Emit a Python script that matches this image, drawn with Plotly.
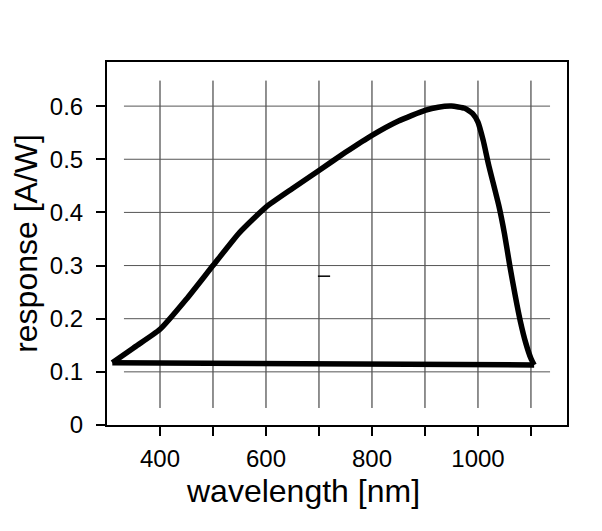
import plotly.graph_objects as go

# response curve, from the short-wavelength end round to the long-wavelength end
wavelength = [310, 350, 400, 450, 500, 550, 600, 650, 700, 750, 800, 850, 900,
              925, 950, 975, 990, 1000, 1010, 1020, 1040, 1050, 1060, 1070,
              1080, 1090, 1100, 1106]
response = [0.117, 0.145, 0.180, 0.237, 0.300, 0.362, 0.410, 0.445, 0.479,
            0.513, 0.545, 0.572, 0.592, 0.598, 0.600, 0.596, 0.586, 0.570,
            0.535, 0.490, 0.410, 0.360, 0.300, 0.245, 0.195, 0.155, 0.125,
            0.113]

# straight segment closing the loop back to the start
close_x = [1106, 310]
close_y = [0.113, 0.117]

# the small stray dash inside the panel
dash_x = [698, 721]
dash_y = [0.28, 0.28]

x_ticks = [400, 500, 600, 700, 800, 900, 1000, 1100]
x_labels = ["400", "", "600", "", "800", "", "1000", ""]
y_ticks = [0, 0.1, 0.2, 0.3, 0.4, 0.5, 0.6]
y_labels = ["0", "0.1", "0.2", "0.3", "0.4", "0.5", "0.6"]

fig = go.Figure()

# ── grid segments (drawn short of the frame, lattice style) ──────────────────
for xv in x_ticks:
    fig.add_shape(type="line", xref="x", yref="y", x0=xv, x1=xv,
                  y0=0.032, y1=0.648, layer="below",
                  line=dict(color="#222222", width=1))
for yv in y_ticks[1:]:
    fig.add_shape(type="line", xref="x", yref="y", x0=332, x1=1136,
                  y0=yv, y1=yv, layer="below",
                  line=dict(color="#555555", width=1))

fig.add_trace(go.Scatter(
    x=wavelength, y=response, mode="lines",
    line=dict(color="black", width=5.5, shape="spline", smoothing=0.5),
    hoverinfo="skip", showlegend=False,
))
fig.add_trace(go.Scatter(
    x=close_x, y=close_y, mode="lines",
    line=dict(color="black", width=5.5),
    hoverinfo="skip", showlegend=False,
))
fig.add_trace(go.Scatter(
    x=dash_x, y=dash_y, mode="lines",
    line=dict(color="black", width=1.5),
    hoverinfo="skip", showlegend=False,
))

axis_font = dict(family="Liberation Sans, Arial, sans-serif", size=24, color="black")
title_font = dict(family="Liberation Sans, Arial, sans-serif", size=32, color="black")

# x title sits left of the panel centre in the original, so it is an annotation
fig.add_annotation(
    text="wavelength [nm]", font=title_font, showarrow=False,
    xref="paper", yref="paper", x=0.426, y=0,
    xanchor="center", yanchor="top", yshift=-46,
)

# page body has an 8px margin, so the plot box is pulled back by that much
fig.update_layout(
    width=602, height=531,
    paper_bgcolor="white", plot_bgcolor="white",
    margin=dict(l=99, r=43, t=54, b=114),
    xaxis=dict(
        range=[300, 1168], tickvals=x_ticks, ticktext=x_labels,
        showgrid=False, zeroline=False, automargin=False,
        showline=True, linecolor="black", linewidth=2, mirror=True,
        ticks="outside", ticklen=9, tickwidth=1.5, tickcolor="black",
        tickfont=axis_font, ticklabelstandoff=2,
    ),
    yaxis=dict(
        range=[0, 0.683], tickvals=y_ticks, ticktext=y_labels,
        showgrid=False, zeroline=False, automargin=False,
        showline=True, linecolor="black", linewidth=2, mirror=True,
        ticks="outside", ticklen=9, tickwidth=1.5, tickcolor="black",
        tickfont=axis_font, ticklabelstandoff=8,
        title=dict(text="response [A/W]", font=title_font, standoff=8),
    ),
)

fig.write_html("out.html")
